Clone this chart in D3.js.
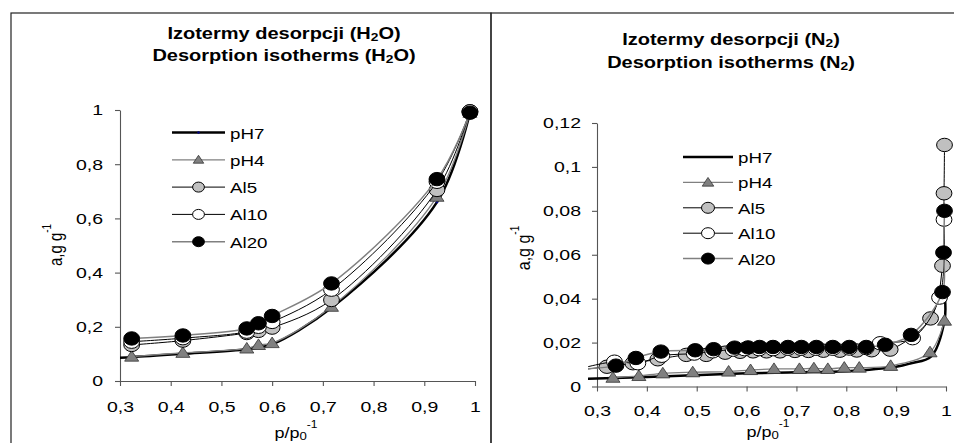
<!DOCTYPE html>
<html>
<head>
<meta charset="utf-8">
<script src="https://cdn.jsdelivr.net/npm/d3@7/dist/d3.min.js"></script>
<style>
  body { margin: 0; background: #fff; }
  text { font-family: "Liberation Sans", Arial, sans-serif; fill: #000; }
</style>
</head>
<body>
<svg width="954" height="443"></svg>
<script>
// ---- data: H2O desorption (left panel)
const seriesNames = ["pH7", "pH4", "Al5", "Al10", "Al20"];

const h2oX = [0.323, 0.424, 0.55, 0.573, 0.6, 0.717, 0.925, 0.99];
const h2oPH7X = [0.28, 0.323, 0.424, 0.55, 0.573, 0.6, 0.717, 0.925, 0.99];
const h2oPH7 = [0.085, 0.088, 0.1, 0.117, 0.124, 0.135, 0.27, 0.66, 0.99];
const h2oPH4 = [0.09, 0.104, 0.12, 0.133, 0.14, 0.274, 0.68, 0.99];
const h2oAl5 = [0.133, 0.149, 0.177, 0.185, 0.197, 0.299, 0.705, 0.995];
const h2oAl10 = [0.145, 0.158, 0.182, 0.2, 0.218, 0.337, 0.735, 0.995];
const h2oAl20 = [0.157, 0.168, 0.194, 0.213, 0.24, 0.36, 0.745, 0.99];
const h2oXTicks = [0.3, 0.4, 0.5, 0.6, 0.7, 0.8, 0.9, 1];
const h2oYTicks = [0, 0.2, 0.4, 0.6, 0.8, 1];

// ---- data: N2 desorption (right panel)
const n2PH7X = [0.25, 0.4, 0.5, 0.6, 0.7, 0.8, 0.9, 0.93, 0.97, 0.997, 0.998];
const n2PH7 = [0.0034, 0.0043, 0.0052, 0.006, 0.0065, 0.007, 0.009, 0.0106, 0.0136, 0.03, 0.04];
const n2PH4X = [0.332, 0.384, 0.432, 0.492, 0.564, 0.608, 0.655, 0.706, 0.735, 0.763, 0.796, 0.826, 0.889, 0.968, 0.997];
const n2PH4 = [0.004, 0.0048, 0.006, 0.0065, 0.0068, 0.0075, 0.008, 0.008, 0.0083, 0.008, 0.0086, 0.0086, 0.0094, 0.0156, 0.03];
const n2Al5X = [0.25, 0.32, 0.372, 0.422, 0.479, 0.519, 0.557, 0.587, 0.613, 0.64, 0.667, 0.697, 0.724, 0.754, 0.787, 0.821, 0.851, 0.888, 0.969, 0.993, 0.996, 0.997];
const n2Al5 = [0.0072, 0.009, 0.0106, 0.0124, 0.0144, 0.0144, 0.0154, 0.0158, 0.016, 0.016, 0.016, 0.0162, 0.0162, 0.0163, 0.0163, 0.0164, 0.0165, 0.0168, 0.031, 0.055, 0.088, 0.11];
const n2Al10X = [0.25, 0.335, 0.382, 0.43, 0.495, 0.532, 0.573, 0.596, 0.625, 0.653, 0.683, 0.709, 0.739, 0.773, 0.806, 0.84, 0.868, 0.933, 0.987, 0.996];
const n2Al10 = [0.0072, 0.0113, 0.0106, 0.014, 0.015, 0.016, 0.0168, 0.017, 0.017, 0.017, 0.0172, 0.0172, 0.0172, 0.0172, 0.0173, 0.0175, 0.0197, 0.022, 0.0405, 0.076];
const n2Al20X = [0.25, 0.338, 0.378, 0.428, 0.497, 0.534, 0.576, 0.603, 0.626, 0.653, 0.683, 0.71, 0.74, 0.773, 0.806, 0.84, 0.878, 0.93, 0.993, 0.995, 0.997];
const n2Al20 = [0.0078, 0.0095, 0.013, 0.0159, 0.0165, 0.017, 0.0177, 0.0178, 0.018, 0.018, 0.018, 0.018, 0.018, 0.018, 0.018, 0.018, 0.019, 0.0235, 0.043, 0.061, 0.08];
const n2XTicks = [0.3, 0.4, 0.5, 0.6, 0.7, 0.8, 0.9, 1];
const n2YTicks = [0, 0.02, 0.04, 0.06, 0.08, 0.1, 0.12];

// ---- styles
const styles = {
  pH7: { stroke: "#000", width: 2.5, marker: "dot", fill: "#000080" },
  pH4: { stroke: "#808080", width: 1.3, marker: "tri", fill: "#808080" },
  Al5: { stroke: "#000", width: 1, marker: "circle", fill: "#c0c0c0" },
  Al10: { stroke: "#000", width: 1, marker: "circle", fill: "#fff" },
  Al20: { stroke: "#808080", width: 1.5, marker: "circle", fill: "#000" }
};
const TX = 1.3;   // the reference is stretched sideways; text follows
const MX = 1.18;  // markers too

const svg = d3.select("svg");
svg.append("rect").attr("width", 954).attr("height", 443).attr("fill", "#fff");

const zip = (xs, ys) => ys.map((y, i) => ({ x: xs[i], y }));
const comma = d => String(d).replace(".", ",");

function addText(parent, x, y, parts, o) {
  const tf = o.rotate
    ? `translate(${x},${y}) rotate(-90) scale(1,${o.sy || 1})`
    : `translate(${x},${y}) scale(${o.sx || TX},1)`;
  const t = parent.append("text")
    .attr("transform", tf)
    .attr("text-anchor", o.anchor || "start")
    .style("font-size", o.size + "px")
    .style("font-weight", o.bold ? "bold" : null);
  parts.forEach(p => {
    if (typeof p === "string") { t.append("tspan").text(p); return; }
    const s = t.append("tspan").attr("dy", p.dy || 0).text(p.t);
    if (p.size) s.style("font-size", p.size + "px");
  });
  return t;
}

function marker(g, type, x, y, r, fill) {
  if (type === "circle") {
    g.append("ellipse").attr("cx", x).attr("cy", y)
      .attr("rx", r * MX).attr("ry", r)
      .attr("fill", fill).attr("stroke", "#000").attr("stroke-width", 1);
  } else if (type === "tri") {
    const hw = r * 1.05, top = -0.9 * r, bot = 0.68 * r;
    g.append("path")
      .attr("d", `M${x},${y + top}L${x + hw},${y + bot}L${x - hw},${y + bot}Z`)
      .attr("fill", fill).attr("stroke", "#333").attr("stroke-width", 0.8);
  } else if (type === "dot") {
    g.append("circle").attr("cx", x).attr("cy", y).attr("r", 1.2).attr("fill", fill);
  }
}

function drawPanel(p) {
  const g = svg.append("g");
  const x = d3.scaleLinear().domain([0.3, 1]).range(p.xRange);
  const y = d3.scaleLinear().domain(p.yDomain).range(p.yRange);

  // frame
  g.append("rect").attr("x", p.frame[0]).attr("y", p.frame[1])
    .attr("width", p.frame[2]).attr("height", p.frame[3])
    .attr("fill", "none").attr("stroke", "#222").attr("stroke-width", 1.2);

  // titles
  p.title.forEach((parts, i) =>
    addText(g, p.titleX, p.titleY[i], parts, { anchor: "middle", size: 16, bold: true, sx: 1.25 }));

  // axes
  const xa = g.append("g").attr("transform", `translate(0,${p.yRange[0]})`)
    .call(d3.axisBottom(x).tickValues(p.xTicks).tickSize(5).tickSizeOuter(0).tickFormat(comma));
  xa.selectAll("text").attr("y", p.xLabelDy).attr("transform", `scale(${TX},1)`)
    .style("font-size", "15px");
  const ya = g.append("g").attr("transform", `translate(${p.xRange[0]},0)`)
    .call(d3.axisLeft(y).tickValues(p.yTicks).tickSize(5).tickSizeOuter(0).tickFormat(comma));
  ya.selectAll("text").attr("x", -p.yLabelDx / TX).attr("transform", `scale(${TX},1)`)
    .style("font-size", "15px");
  g.selectAll(".domain, .tick line").attr("stroke", "#555").attr("stroke-width", 1.1);
  g.selectAll(".tick text").attr("fill", "#000").style("font-family", "'Liberation Sans', Arial, sans-serif");

  // axis titles
  addText(g, p.xTitle[0], p.xTitle[1],
    ["p/p", { t: "0", size: 11, dy: 2 }, { t: "-1", size: 10, dy: -12 }],
    { anchor: "middle", size: 15, sx: 1.2 });
  addText(g, p.yTitle[0], p.yTitle[1],
    ["a,g g", { t: "-1", size: 10, dy: -9 }],
    { anchor: "middle", size: p.yTitleSize, rotate: true, sy: 1.2 });

  // series
  const clipId = "clip" + p.id;
  svg.append("clipPath").attr("id", clipId).append("rect")
    .attr("x", p.clip[0]).attr("y", p.clip[1]).attr("width", p.clip[2]).attr("height", p.clip[3]);
  const plot = g.append("g").attr("clip-path", `url(#${clipId})`);
  const line = d3.line().x(d => x(d.x)).y(d => y(d.y)).curve(d3.curveCatmullRom.alpha(0.5));

  p.series.forEach(s => {
    const st = styles[s.name];
    plot.append("path").datum(s.pts).attr("d", line)
      .attr("fill", "none").attr("stroke", st.stroke).attr("stroke-width", st.width)
      .attr("stroke-linejoin", "round");
    if (st.marker === "dot" && !p.dots) return;
    s.pts.forEach(d => marker(plot, st.marker, x(d.x), y(d.y), p.markerR, st.fill));
  });

  // legend
  const lg = g.append("g");
  seriesNames.forEach((name, i) => {
    const st = styles[name];
    const ly = p.legend.y + i * p.legend.dy;
    lg.append("line").attr("x1", p.legend.x1).attr("x2", p.legend.x2)
      .attr("y1", ly).attr("y2", ly)
      .attr("stroke", st.stroke).attr("stroke-width", st.width);
    if (st.marker !== "dot" || p.dots)
      marker(lg, st.marker, (p.legend.x1 + p.legend.x2) / 2, ly, p.legend.r, st.fill);
    addText(lg, p.legend.tx, ly + 6, [name], { size: 15, sx: 1.25 });
  });
}

drawPanel({
  id: "h2o",
  frame: [11, 13, 480, 440],
  clip: [120, 13, 371, 430],
  xRange: [120, 475], yRange: [381, 110], yDomain: [0, 1],
  xTicks: h2oXTicks, yTicks: h2oYTicks,
  xLabelDy: 20, yLabelDx: 17,
  title: [["Izotermy desorpcji (H", { t: "2", size: 11, dy: 2 }, { t: "O)", dy: -2 }],
          ["Desorption isotherms (H", { t: "2", size: 11, dy: 2 }, { t: "O)", dy: -2 }]],
  titleX: 284, titleY: [39, 61],
  xTitle: [296, 438], yTitle: [62, 245], yTitleSize: 15,
  markerR: 6.7, dots: true,
  legend: { x1: 172, x2: 225, tx: 230, y: 132.5, dy: 27.3, r: 5 },
  series: [
    { name: "pH7", pts: zip(h2oPH7X, h2oPH7) },
    { name: "pH4", pts: zip(h2oX, h2oPH4) },
    { name: "Al5", pts: zip(h2oX, h2oAl5) },
    { name: "Al10", pts: zip(h2oX, h2oAl10) },
    { name: "Al20", pts: zip(h2oX, h2oAl20) }
  ]
});

drawPanel({
  id: "n2",
  frame: [491, 13, 480, 440],
  clip: [588, 13, 366, 430],
  xRange: [597, 946], yRange: [386.5, 123], yDomain: [0, 0.12],
  xTicks: n2XTicks, yTicks: n2YTicks,
  xLabelDy: 18.5, yLabelDx: 16,
  title: [["Izotermy desorpcji (N", { t: "2", size: 11, dy: 2 }, { t: ")", dy: -2 }],
          ["Desorption isotherms (N", { t: "2", size: 11, dy: 2 }, { t: ")", dy: -2 }]],
  titleX: 731, titleY: [45, 68],
  xTitle: [768, 437], yTitle: [530, 248], yTitleSize: 16,
  markerR: 6.7, dots: false,
  legend: { x1: 683, x2: 733, tx: 738, y: 157, dy: 25.4, r: 5.5 },
  series: [
    { name: "pH7", pts: zip(n2PH7X, n2PH7) },
    { name: "pH4", pts: zip(n2PH4X, n2PH4) },
    { name: "Al5", pts: zip(n2Al5X, n2Al5) },
    { name: "Al10", pts: zip(n2Al10X, n2Al10) },
    { name: "Al20", pts: zip(n2Al20X, n2Al20) }
  ]
});
</script>
</body>
</html>
